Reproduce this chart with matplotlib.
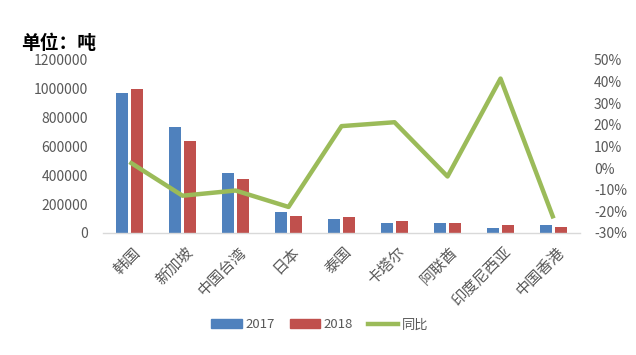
import matplotlib
matplotlib.use("Agg")
import matplotlib.pyplot as plt
import numpy as np
from matplotlib.ticker import FuncFormatter, FixedLocator
from matplotlib.lines import Line2D
from matplotlib.patches import Patch
from matplotlib.transforms import ScaledTranslation

plt.rcParams['font.family'] = ['Noto Sans CJK SC', 'DejaVu Sans']

categories = ["韩国", "新加坡", "中国台湾", "日本", "泰国", "卡塔尔", "阿联酋", "印度尼西亚", "中国香港"]
v2017 = [973000, 735000, 416000, 146000, 97000, 69000, 70000, 35000, 55000]
v2018 = [1000000, 638000, 375000, 118000, 111000, 83000, 69000, 55000, 42000]
yoy = [0.028, -0.128, -0.104, -0.18, 0.194, 0.212, -0.039, 0.414, -0.233]
left_ticks = [0, 200000, 400000, 600000, 800000, 1000000, 1200000]
right_ticks = [-0.3, -0.2, -0.1, 0.0, 0.1, 0.2, 0.3, 0.4, 0.5]

blue = "#4F81BD"
red = "#C0504D"
green = "#9BBB59"
gray = "#595959"

fig = plt.figure(figsize=(6.36, 3.55), dpi=100)
ax = fig.add_axes([0.162, 0.344, 0.750, 0.487])
x = np.arange(len(categories))
bw = 0.226
off = 0.141
ax.bar(x - off, v2017, width=bw, color=blue, zorder=2)
ax.bar(x + off, v2018, width=bw, color=red, zorder=2)
ax.set_xlim(-0.5, len(categories) - 0.5)
ax.set_ylim(0, 1200000)
ax.yaxis.set_major_locator(FixedLocator(left_ticks))
ax.yaxis.set_major_formatter(FuncFormatter(lambda v, p: f"{int(v)}"))
for s in ["top", "right", "left"]:
    ax.spines[s].set_visible(False)
ax.spines["bottom"].set_color("#D9D9D9")
ax.spines["bottom"].set_linewidth(1.0)
ax.tick_params(axis="y", length=0, pad=11, labelsize=10, labelcolor=gray)
ax.tick_params(axis="x", length=0, pad=8, labelsize=11, labelcolor=gray)
ax.set_xticks(x)
ax.set_xticklabels(categories, rotation=45, ha="right", va="top", rotation_mode="anchor")
for lab in ax.get_xticklabels():
    lab.set_transform(lab.get_transform() + ScaledTranslation(0.02, 0, fig.dpi_scale_trans))

ax2 = ax.twinx()
ax2.plot(x, yoy, color=green, linewidth=3.2, solid_joinstyle="round", solid_capstyle="butt", zorder=3)
ax2.set_ylim(-0.3, 0.5)
ax2.yaxis.set_major_locator(FixedLocator(right_ticks))
ax2.yaxis.set_major_formatter(FuncFormatter(lambda v, p: f"{round(v*100):d}%"))
for s in ["top", "right", "left", "bottom"]:
    ax2.spines[s].set_visible(False)
ax2.tick_params(axis="y", length=0, pad=10, labelsize=10, labelcolor=gray)

fig.text(0.033, 0.878, "单位：吨", fontsize=13.5, fontweight="bold", color="black", ha="left", va="center")

handles = [Patch(color=blue, label="2017"), Patch(color=red, label="2018"),
           Line2D([0], [0], color=green, linewidth=3.2, label="同比")]
leg = fig.legend(handles=handles, loc="center", bbox_to_anchor=(0.503, 0.085), ncol=3, frameon=False,
                 fontsize=9.5, handlelength=2.3, handleheight=0.7, columnspacing=1.1, handletextpad=0.3)
for t in leg.get_texts():
    t.set_color(gray)

fig.savefig("out.png", dpi=100)
